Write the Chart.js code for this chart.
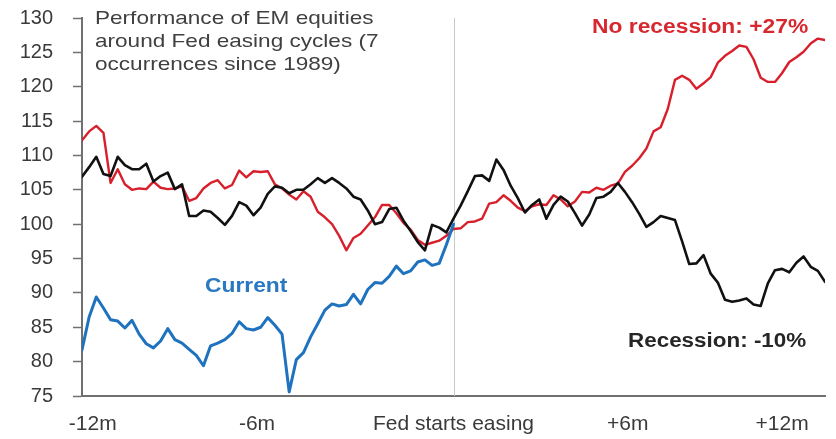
<!DOCTYPE html>
<html>
<head>
<meta charset="utf-8">
<script src="https://cdn.jsdelivr.net/npm/chart.js@4"></script>
<style>
  html, body { margin: 0; padding: 0; background: #ffffff; }
  #wrap { width: 836px; height: 439px; position: relative; }
</style>
</head>
<body>
<div id="wrap"><canvas id="c"></canvas></div>
<script>
// ---- Data (weekly grid, week 0 = Fed starts easing) ----
const weekStart = -52;
const weekEnd = 52;

const noRecession = [
  112.2, 113.5, 114.3, 113.3, 106.0, 108.0, 105.8, 105.0, 105.2, 105.1,
  106.2, 105.3, 105.1, 105.2, 105.5, 103.4, 103.8, 105.2, 106.0, 106.4,
  105.2, 105.7, 107.8, 106.8, 107.7, 107.6, 107.7, 105.8, 105.2, 104.3,
  103.6, 104.8, 104.0, 101.8, 101.0, 100.0, 98.3, 96.2, 98.0, 98.6,
  99.8, 101.0, 102.8, 102.8, 101.6, 100.2, 99.2, 97.7, 97.0, 97.3,
  97.6, 98.3, 99.3,
  99.4, 100.3, 100.4, 100.8, 103.0, 103.2, 104.2, 103.4, 102.4, 101.9,
  102.6, 102.9, 102.8, 104.2, 103.6, 102.6, 103.3, 104.7, 104.6, 105.3,
  105.0, 105.6, 105.9, 107.6, 108.5, 109.6, 111.0, 113.5, 114.1, 116.8,
  121.0, 121.6, 121.0, 119.7, 120.5, 121.4, 123.5, 124.5, 125.2, 126.0,
  125.8, 124.0, 121.3, 120.7, 120.7, 122.0, 123.6, 124.3, 125.1, 126.3,
  127.0, 126.8
];

const recession = [
  106.9, 108.3, 109.8, 107.3, 107.0, 109.8, 108.6, 108.0, 108.0, 108.8,
  106.2, 107.0, 107.5, 105.1, 105.8, 101.2, 101.2, 102.0, 101.8, 100.9,
  99.9, 101.2, 103.2, 102.7, 101.3, 102.4, 104.4, 105.5, 105.3, 104.5,
  105.0, 105.0, 105.8, 106.7, 106.0, 106.7, 106.0, 105.2, 104.0, 103.6,
  102.0, 100.0, 100.3, 102.2, 102.4, 100.5, 99.0, 97.4, 96.2, 99.9,
  99.5, 98.8, 100.8,
  102.7, 104.8, 107.0, 107.1, 106.3, 109.4, 107.9, 105.6, 103.8, 101.7,
  102.8, 103.6, 100.8, 102.8, 104.0, 103.3, 101.6, 99.8, 101.4, 103.8,
  104.0, 104.7, 106.0, 104.7, 103.2, 101.5, 99.6, 100.3, 101.2, 100.9,
  100.6, 97.5, 94.2, 94.3, 95.5, 92.8, 91.5, 89.0, 88.7, 88.9,
  89.2, 88.3, 88.1, 91.4, 93.3, 93.5, 93.0, 94.4, 95.3, 93.8,
  93.2, 91.6
];

const current = [
  81.7, 86.5, 89.4, 87.8, 86.1, 85.9, 84.9, 86.0, 84.0, 82.6,
  82.0, 83.0, 84.8, 83.2, 82.7, 81.8, 80.9, 79.4, 82.3, 82.7,
  83.2, 84.1, 85.8, 84.8, 84.6, 85.0, 86.4, 85.3, 84.0, 75.6,
  80.3, 81.3, 83.6, 85.5, 87.5, 88.4, 88.1, 88.3, 89.8, 88.4,
  90.5, 91.5, 91.4, 92.4, 93.9, 92.8, 93.2, 94.5, 94.8, 94.0,
  94.3, 97.0, 100.0
];

const xTickLabels = ['-12m', '-6m', 'Fed starts easing', '+6m', '+12m'];
const xTickWeeks = [-50.5, -27.5, 0, 24.4, 46];
const yTicks = [75, 80, 85, 90, 95, 100, 105, 110, 115, 120, 125, 130];

const titleLines = ['Performance of EM equities', 'around Fed easing cycles (7', 'occurrences since 1989)'];
const labelNoRec = 'No recession: +27%';
const labelRec = 'Recession: -10%';
const labelCurrent = 'Current';

// ---- build datasets ----
function toPoints(arr) {
  const pts = [];
  for (let i = 0; i < arr.length; i++) pts.push({ x: weekStart + i, y: arr[i] });
  return pts;
}

const FONT = '"Liberation Sans", Arial, sans-serif';

const overlayPlugin = {
  id: 'overlay',
  beforeDatasetsDraw(chart) {
    const ctx = chart.ctx;
    const xs = chart.scales.x;
    const area = chart.chartArea;
    const x0 = Math.round(xs.getPixelForValue(0)) + 0.5;
    ctx.save();
    ctx.strokeStyle = '#c8c8c8';
    ctx.lineWidth = 1;
    ctx.beginPath();
    ctx.moveTo(x0, area.top);
    ctx.lineTo(x0, area.bottom);
    ctx.stroke();
    ctx.restore();
  },
  afterDatasetsDraw(chart) {
    const ctx = chart.ctx;
    function stretched(text, x, y, font, color, sx) {
      ctx.save();
      ctx.translate(x, y);
      ctx.scale(sx, 1);
      ctx.font = font;
      ctx.fillStyle = color;
      ctx.textBaseline = 'alphabetic';
      ctx.textAlign = 'left';
      ctx.fillText(text, 0, 0);
      ctx.restore();
    }
    const tFont = '18.5px ' + FONT;
    stretched(titleLines[0], 95, 23.5, tFont, '#404040', 1.22);
    stretched(titleLines[1], 95, 47, tFont, '#404040', 1.22);
    stretched(titleLines[2], 95, 69.5, tFont, '#404040', 1.22);
    const bFont = 'bold 19.5px ' + FONT;
    stretched(labelNoRec, 592, 32.5, bFont, '#d8282f', 1.17);
    stretched(labelRec, 628, 347, bFont, '#262626', 1.15);
    stretched(labelCurrent, 205, 292, bFont, '#2a78c2', 1.17);
  }
};

new Chart(document.getElementById('c'), {
  type: 'line',
  data: {
    datasets: [
      {
        label: 'Current',
        data: toPoints(current),
        borderColor: '#1f72be',
        borderWidth: 3,
        order: 0
      },
      {
        label: 'Recession',
        data: toPoints(recession),
        borderColor: '#111111',
        borderWidth: 2.6,
        order: 1
      },
      {
        label: 'No recession',
        data: toPoints(noRecession),
        borderColor: '#d8202c',
        borderWidth: 2.4,
        order: 2
      }
    ]
  },
  options: {
    responsive: true,
    maintainAspectRatio: false,
    animation: false,
    events: [],
    elements: {
      point: { radius: 0 },
      line: { tension: 0, borderJoinStyle: 'round', borderCapStyle: 'round' }
    },
    layout: { padding: { top: 18, right: 11, bottom: 0, left: 0 } },
    plugins: {
      legend: { display: false },
      tooltip: { enabled: false },
      title: { display: false }
    },
    scales: {
      x: {
        type: 'linear',
        min: weekStart,
        max: weekEnd,
        grid: { display: false },
        border: { display: true, color: '#707070', width: 2 },
        afterBuildTicks(scale) {
          scale.ticks = xTickWeeks.map(v => ({ value: v }));
        },
        afterFit(scale) {
          scale.height = 43;
          scale.paddingLeft = 0;
          scale.paddingRight = 0;
        },
        ticks: {
          autoSkip: false,
          maxRotation: 0,
          padding: 8,
          color: '#3a3a3a',
          font: { family: FONT, size: 21 },
          callback(value, index) { return xTickLabels[index]; }
        }
      },
      y: {
        type: 'linear',
        min: 75,
        max: 130,
        afterBuildTicks(scale) {
          scale.ticks = yTicks.map(v => ({ value: v }));
        },
        afterFit(scale) {
          scale.width = 82;
          scale.paddingTop = 0;
          scale.paddingBottom = 0;
        },
        grid: {
          display: true,
          drawOnChartArea: false,
          drawTicks: true,
          tickLength: 9,
          tickWidth: 1.5,
          color: '#707070'
        },
        border: { display: true, color: '#707070', width: 2 },
        ticks: {
          padding: 20,
          color: '#3a3a3a',
          font: { family: FONT, size: 20 }
        }
      }
    }
  },
  plugins: [overlayPlugin]
});
</script>
</body>
</html>
